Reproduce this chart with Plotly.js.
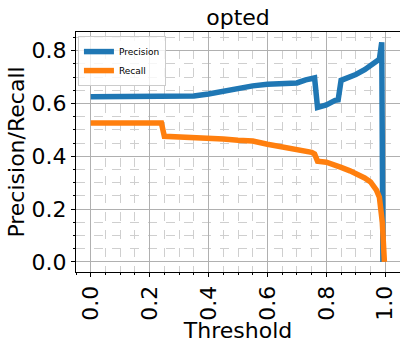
<!DOCTYPE html>
<html>
<head>
<meta charset="utf-8">
<script src="https://cdn.plot.ly/plotly-3.0.1.min.js"></script>
<style>html,body{margin:0;padding:0;background:#fff;}#chart{width:400px;height:343px;}</style>
</head>
<body>
<div id="chart"></div>
<script>
const thresholdsP = [0.0, 0.1, 0.2, 0.25, 0.3, 0.35, 0.4, 0.45, 0.5, 0.55, 0.6, 0.65, 0.7, 0.73, 0.75, 0.76, 0.77, 0.8, 0.83, 0.84, 0.85, 0.88, 0.9, 0.93, 0.95, 0.97, 0.98, 0.988, 0.992];
const precision   = [0.626, 0.626, 0.626, 0.626, 0.627, 0.629, 0.636, 0.648, 0.657, 0.667, 0.673, 0.675, 0.678, 0.690, 0.695, 0.697, 0.585, 0.595, 0.612, 0.614, 0.688, 0.700, 0.710, 0.728, 0.742, 0.758, 0.768, 0.832, 0.0];
const thresholdsR = [0.0, 0.24, 0.25, 0.3, 0.35, 0.4, 0.45, 0.5, 0.55, 0.6, 0.65, 0.7, 0.75, 0.76, 0.77, 0.8, 0.83, 0.85, 0.88, 0.9, 0.93, 0.95, 0.97, 0.98, 0.985, 0.99, 0.997];
const recall      = [0.526, 0.526, 0.476, 0.474, 0.473, 0.470, 0.466, 0.461, 0.458, 0.446, 0.437, 0.425, 0.415, 0.409, 0.382, 0.378, 0.368, 0.358, 0.345, 0.335, 0.318, 0.303, 0.272, 0.245, 0.21, 0.15, 0.0];
const seriesNames = ["Precision", "Recall"];
const chartTitle = "opted";
const xTitle = "Threshold";
const yTitle = "Precision/Recall";
const xTicks = [0.0, 0.2, 0.4, 0.6, 0.8, 1.0];
const xTickLabels = ["0.0", "0.2", "0.4", "0.6", "0.8", "1.0"];
const yTicks = [0.0, 0.2, 0.4, 0.6, 0.8];
const yTickLabels = ["0.0", "0.2", "0.4", "0.6", "0.8"];

const font = "DejaVu Sans, sans-serif";
const traces = [
  {x: thresholdsP, y: precision, name: seriesNames[0], type: "scatter", mode: "lines",
   line: {color: "#1f77b4", width: 5.5}},
  {x: thresholdsR, y: recall, name: seriesNames[1], type: "scatter", mode: "lines",
   line: {color: "#ff7f0e", width: 5.5}}
];
const axisCommon = {
  showline: true, linecolor: "#000", linewidth: 1, mirror: true,
  ticks: "outside", ticklen: 4, tickcolor: "#000", tickwidth: 1,
  showgrid: true, gridcolor: "#b0b0b0", gridwidth: 1,
  zeroline: false,
  tickfont: {family: font, size: 22, color: "#000"},
  minor: {dtick: 0.05, showgrid: true, gridcolor: "#cfcfcf", griddash: "dash", gridwidth: 1,
          ticks: "outside", ticklen: 2, tickcolor: "#000"}
};
const layout = {
  width: 400, height: 343,
  margin: {l: 76, r: 0, t: 32, b: 71, pad: 0},
  paper_bgcolor: "#fff", plot_bgcolor: "#fff",
  showlegend: true,
  title: {text: chartTitle, font: {family: font, size: 22, color: "#000"},
          x: 0.5, xref: "paper", xanchor: "center", y: 1 - 17/343, yanchor: "middle"},
  xaxis: Object.assign({}, axisCommon, {
    range: [-0.05, 1.05], tickmode: "array", tickvals: xTicks, ticktext: xTickLabels,
    tickangle: -90,
    title: {text: xTitle, font: {family: font, size: 22, color: "#000"}, standoff: 2}
  }),
  yaxis: Object.assign({}, axisCommon, {
    range: [-0.038, 0.871], tickmode: "array", tickvals: yTicks, ticktext: yTickLabels,
    title: {text: yTitle, font: {family: font, size: 22, color: "#000"}, standoff: 0}
  }),
  legend: {x: 0.006, y: 0.983, xanchor: "left", yanchor: "top",
           bgcolor: "rgba(255,255,255,0.8)", bordercolor: "#cccccc", borderwidth: 1,
           font: {family: font, size: 9, color: "#000"}, tracegroupgap: 0}
};
Plotly.newPlot("chart", traces, layout, {staticPlot: true, displayModeBar: false});
</script>
</body>
</html>
